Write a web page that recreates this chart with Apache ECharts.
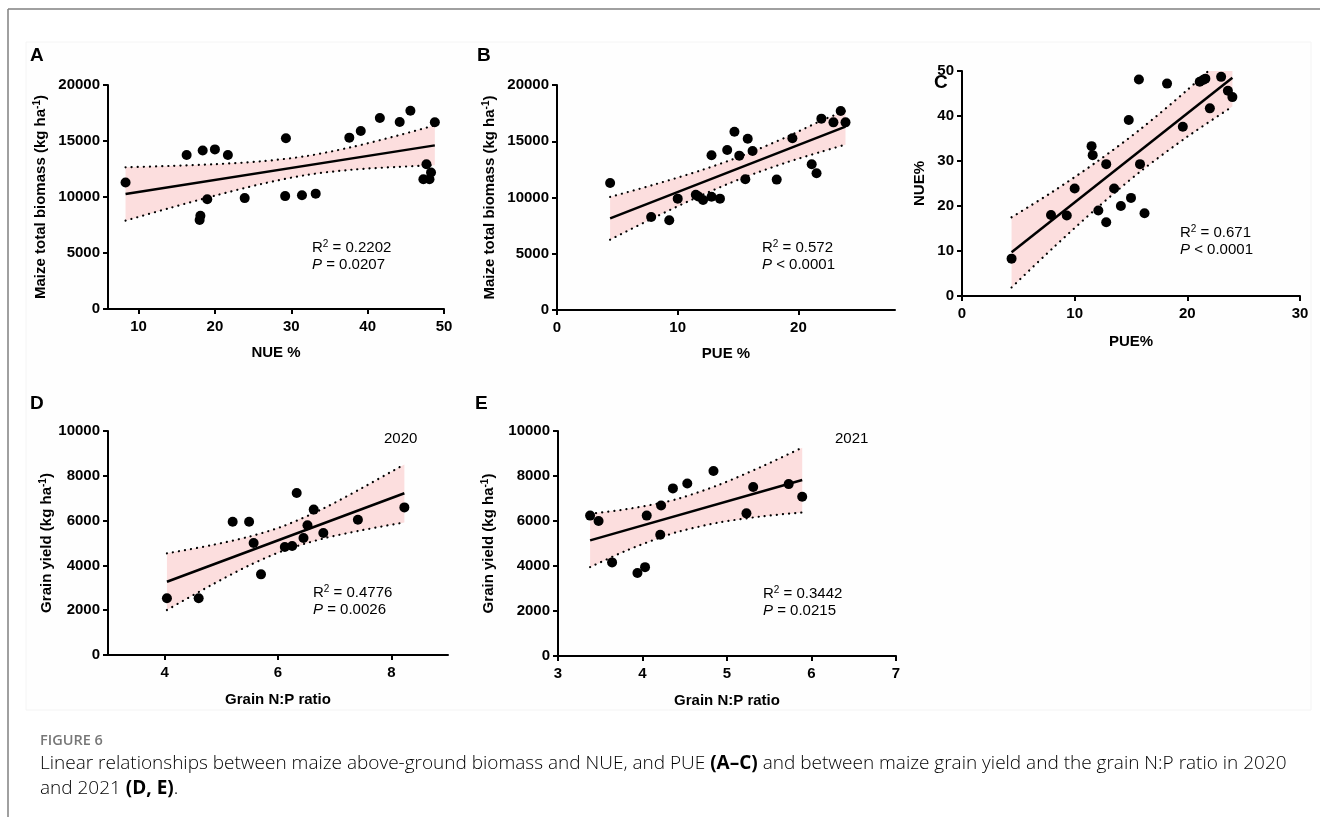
<!DOCTYPE html>
<html>
<head>
<meta charset="utf-8">
<script src="https://cdn.jsdelivr.net/npm/echarts@6/dist/echarts.min.js"></script>
<style>
html,body{margin:0;padding:0;background:#fff;}
#main{width:1320px;height:817px;}
</style>
</head>
<body>
<div id="main"></div>
<script>
/* A: biomass vs NUE */
var aX = [8.3, 16.3, 18.4, 20.0, 21.7, 18.1, 18.0, 19.0, 23.9, 29.3, 29.2, 31.4, 33.2, 37.6, 39.1, 41.6, 44.2, 45.6, 48.8, 47.7, 48.3, 47.3, 48.1];
var aY = [11300, 13750, 14150, 14250, 13750, 8330, 7950, 9800, 9900, 15250, 10080, 10150, 10300, 15300, 15900, 17050, 16700, 17700, 16680, 12920, 12180, 11580, 11580];
var aLineX = [8.3, 48.8], aLineY = [10270, 14610];
var aBandX = [8.3, 14, 20, 26, 32, 38, 44, 48.8];
var aBandUp = [12650, 12770, 12930, 13180, 13660, 14470, 15500, 16400];
var aBandLo = [7890, 9000, 10120, 11150, 11970, 12440, 12690, 12830];

/* B: biomass vs PUE */
var bX = [4.4, 7.8, 9.3, 10.0, 11.5, 11.7, 12.1, 12.8, 13.5, 12.8, 14.1, 14.7, 15.1, 15.8, 16.2, 15.6, 18.2, 19.5, 21.1, 21.5, 21.9, 22.9, 23.5, 23.9];
var bY = [11290, 8270, 7970, 9900, 10250, 10100, 9780, 10070, 9900, 13750, 14220, 15850, 13720, 15230, 14130, 11620, 11590, 15260, 12950, 12150, 17010, 16680, 17690, 16680];
var bLineX = [4.4, 23.9], bLineY = [8150, 16300];
var bBandX = [4.4, 8, 12, 15.4, 19, 22, 23.9];
var bBandUp = [10050, 11130, 12440, 13740, 15370, 16880, 17700];
var bBandLo = [6250, 8190, 10210, 11740, 13110, 14100, 14700];

/* C: NUE vs PUE */
var cX = [4.4, 7.9, 9.3, 10.0, 11.5, 11.6, 12.1, 12.8, 12.8, 13.5, 14.1, 14.8, 15.0, 15.7, 15.8, 16.2, 18.2, 19.6, 21.1, 21.4, 21.6, 22.0, 23.0, 23.6, 24.0];
var cY = [8.3, 18.0, 17.9, 23.9, 33.3, 31.3, 19.0, 16.4, 29.3, 23.9, 20.0, 39.1, 21.8, 48.1, 29.3, 18.4, 47.2, 37.6, 47.6, 48.0, 48.3, 41.7, 48.7, 45.6, 44.2];
var cLineX = [4.4, 24.0], cLineY = [9.7, 48.5];
var cBandX = [4.4, 8, 12, 15.9, 20, 24.0];
var cBandUp = [17.5, 23.1, 29.9, 37.2, 45.8, 54.9];
var cBandLo = [1.9, 10.5, 19.6, 27.8, 35.4, 42.1];

/* D: grain yield vs N:P 2020 */
var dX = [4.04, 4.6, 5.2, 5.49, 5.57, 5.7, 6.12, 6.25, 6.33, 6.45, 6.52, 6.63, 6.8, 7.41, 8.23];
var dY = [2530, 2530, 5950, 5950, 5000, 3600, 4820, 4870, 7230, 5220, 5790, 6490, 5450, 6040, 6590];
var dLineX = [4.04, 8.23], dLineY = [3270, 7220];
var dBandX = [4.04, 4.8, 5.5, 6.1, 6.8, 7.5, 8.23];
var dBandUp = [4540, 4890, 5290, 5760, 6540, 7480, 8510];
var dBandLo = [2010, 3090, 4010, 4660, 5200, 5580, 5920];

/* E: grain yield vs N:P 2021 */
var eX = [3.38, 3.48, 3.64, 3.94, 4.03, 4.05, 4.21, 4.22, 4.36, 4.53, 4.84, 5.23, 5.31, 5.73, 5.89];
var eY = [6240, 6000, 4160, 3690, 3950, 6240, 5390, 6690, 7450, 7670, 8220, 6340, 7510, 7640, 7080];
var eLineX = [3.38, 5.89], eLineY = [5140, 7820];
var eBandX = [3.38, 3.8, 4.2, 4.45, 4.9, 5.4, 5.89];
var eBandUp = [6320, 6520, 6790, 7020, 7600, 8400, 9260];
var eBandLo = [3950, 4670, 5250, 5550, 5930, 6200, 6380];

var FONT = 'Arial, "Liberation Sans", sans-serif';
var CAPFONT = '"Open Sans", sans-serif';
var PINK = '#fcdede';

var chart = echarts.init(document.getElementById('main'), null, {renderer: 'canvas'});

function pairs(xs, ys){
    return xs.map(function(x, i){ return [x, ys[i]]; });
}
function plain(v){ return String(v); }

/* 坐标轴公共样式 */
function xAxisOf(idx, min, max, ticks, name, gap){
    return {
        type: 'value', gridIndex: idx, min: min, max: max,
        name: name, nameLocation: 'middle', nameGap: gap,
        nameTextStyle: {fontFamily: FONT, fontWeight: 'bold', fontSize: 15, color: '#000'},
        axisLine: {show: true, onZero: false, lineStyle: {color: '#000', width: 2}},
        axisTick: {show: true, length: 5, lineStyle: {color: '#000', width: 2}, customValues: ticks},
        axisLabel: {fontFamily: FONT, fontWeight: 'bold', fontSize: 15, color: '#000', margin: 10, customValues: ticks, formatter: plain},
        splitLine: {show: false}
    };
}
function yAxisOf(idx, max, interval, name, gap){
    return {
        type: 'value', gridIndex: idx, min: 0, max: max, interval: interval,
        name: name, nameLocation: 'middle', nameGap: gap,
        nameTextStyle: {
            fontFamily: FONT, fontWeight: 'bold', fontSize: 15, color: '#000',
            rich: {
                b: {fontFamily: FONT, fontWeight: 'bold', fontSize: 15, color: '#000', lineHeight: 18},
                s: {fontFamily: FONT, fontWeight: 'bold', fontSize: 10, color: '#000', lineHeight: 10, verticalAlign: 'top'}
            }
        },
        axisLine: {show: true, onZero: false, lineStyle: {color: '#000', width: 2}},
        axisTick: {show: true, length: 5, lineStyle: {color: '#000', width: 2}},
        axisLabel: {fontFamily: FONT, fontWeight: 'bold', fontSize: 15, color: '#000', margin: 8, formatter: plain},
        splitLine: {show: false}
    };
}

/* 每个面板：置信带 + 回归线 + 散点 */
function panelSeries(idx, xs, ys, lx, ly, bx, bu, bl){
    var dotted = {color: '#000', width: 2.2, type: [0.1, 6], cap: 'round'};
    return [
        {
            type: 'custom', xAxisIndex: idx, yAxisIndex: idx, data: [[bx[0], bu[0]]],
            clip: true, silent: true, z: 1,
            renderItem: function(params, api){
                var pts = [];
                for (var i = 0; i < bx.length; i++) pts.push(api.coord([bx[i], bu[i]]));
                for (var j = bx.length - 1; j >= 0; j--) pts.push(api.coord([bx[j], bl[j]]));
                var cs = params.coordSys;
                return {
                    type: 'polygon', shape: {points: pts},
                    style: {fill: PINK},
                    clipPath: {type: 'rect', shape: {x: cs.x, y: cs.y, width: cs.width, height: cs.height}}
                };
            }
        },
        {
            type: 'line', xAxisIndex: idx, yAxisIndex: idx, data: pairs(bx, bl),
            smooth: 0.3, showSymbol: false, silent: true, z: 3, lineStyle: dotted
        },
        {
            type: 'line', xAxisIndex: idx, yAxisIndex: idx, data: pairs(bx, bu),
            smooth: 0.3, showSymbol: false, silent: true, z: 3, lineStyle: dotted
        },
        {
            type: 'line', xAxisIndex: idx, yAxisIndex: idx, data: pairs(lx, ly),
            showSymbol: false, silent: true, z: 4,
            lineStyle: {color: '#000', width: 2.5}
        },
        {
            type: 'scatter', xAxisIndex: idx, yAxisIndex: idx, data: pairs(xs, ys),
            symbolSize: 10, itemStyle: {color: '#000', opacity: 1}, z: 5
        }
    ];
}

function txt(x, y, rich, text, size){
    return {
        type: 'text', x: x, y: y,
        style: {
            text: text, fontFamily: FONT, fontSize: size || 15, fill: '#000',
            verticalAlign: 'middle', rich: rich
        }
    };
}
var annRich = {
    t: {fontFamily: FONT, fontSize: 15, color: '#000', lineHeight: 17},
    s: {fontFamily: FONT, fontSize: 10, color: '#000', lineHeight: 9, verticalAlign: 'top'},
    i: {fontFamily: FONT, fontSize: 15, color: '#000', fontStyle: 'italic', lineHeight: 17}
};
function ann(x, y, r2, p){
    return [
        txt(x, y, annRich, '{t|R}{s|2}{t| = ' + r2 + '}'),
        txt(x, y + 17, annRich, '{i|P}{t| ' + p + '}')
    ];
}
function letter(x, y, s){
    return {type: 'text', x: x, y: y, style: {text: s, fontFamily: FONT, fontWeight: 'bold', fontSize: 19, fill: '#000', verticalAlign: 'middle'}};
}

var series = [].concat(
    panelSeries(0, aX, aY, aLineX, aLineY, aBandX, aBandUp, aBandLo),
    panelSeries(1, bX, bY, bLineX, bLineY, bBandX, bBandUp, bBandLo),
    panelSeries(2, cX, cY, cLineX, cLineY, cBandX, cBandUp, cBandLo),
    panelSeries(3, dX, dY, dLineX, dLineY, dBandX, dBandUp, dBandLo),
    panelSeries(4, eX, eY, eLineX, eLineY, eBandX, eBandUp, eBandLo)
);

var capRich = {
    n: {fontFamily: CAPFONT, fontSize: 19, color: '#595959', fontWeight: 300},
    b: {fontFamily: CAPFONT, fontSize: 19, color: '#333', fontWeight: 'bold'}
};

var graphics = [
    {type: 'line', shape: {x1: 8, y1: 9, x2: 1320, y2: 9}, style: {stroke: '#808080', lineWidth: 1.5}, z: -10},
    {type: 'line', shape: {x1: 8, y1: 9, x2: 8, y2: 817}, style: {stroke: '#808080', lineWidth: 1.5}, z: -10},
    {type: 'rect', shape: {x: 26, y: 42, width: 1285, height: 668}, style: {fill: '#fefefe', stroke: '#f4f4f4', lineWidth: 1}, z: -10},
    letter(30, 56, 'A'), letter(477, 56, 'B'), letter(934, 83, 'C'),
    letter(30, 404, 'D'), letter(475, 404, 'E'),
    txt(384, 439, null, '2020'), txt(835, 439, null, '2021'),
    {type: 'text', x: 40, y: 741, style: {text: 'FIGURE 6', fontFamily: CAPFONT, fontSize: 14.5, fontWeight: 600, fill: '#777', verticalAlign: 'middle'}},
    {type: 'text', x: 40, y: 764, style: {
        text: '{n|Linear relationships between maize above-ground biomass and NUE, and PUE }{b|(A–C)}{n| and between maize grain yield and the grain N:P ratio in 2020}',
        rich: capRich, verticalAlign: 'middle'}},
    {type: 'text', x: 40, y: 789, style: {
        text: '{n|and 2021 }{b|(D, E)}{n|.}', rich: capRich, verticalAlign: 'middle'}}
].concat(
    ann(312, 248, '0.2202', '= 0.0207'),
    ann(762, 248, '0.572', '< 0.0001'),
    ann(1180, 233, '0.671', '< 0.0001'),
    ann(313, 593, '0.4776', '= 0.0026'),
    ann(763, 594, '0.3442', '= 0.0215')
);

var yName1 = '{b|Maize total biomass (kg ha}{s|-1}{b|)}';
var yName2 = '{b|Grain yield (kg ha}{s|-1}{b|)}';

chart.setOption({
    backgroundColor: '#fff',
    animation: false,
    grid: [
        {left: 108, top: 85, width: 336, height: 224},
        {left: 557, top: 85, width: 338, height: 225},
        {left: 962, top: 71, width: 338, height: 225},
        {left: 108, top: 431, width: 340, height: 224},
        {left: 558, top: 431, width: 338, height: 225}
    ],
    xAxis: [
        xAxisOf(0, 6, 50, [10, 20, 30, 40, 50], 'NUE %', 36),
        xAxisOf(1, 0, 28, [0, 10, 20], 'PUE %', 36),
        xAxisOf(2, 0, 30, [0, 10, 20, 30], 'PUE%', 38),
        xAxisOf(3, 3, 9, [4, 6, 8], 'Grain N:P ratio', 37),
        xAxisOf(4, 3, 7, [3, 4, 5, 6, 7], 'Grain N:P ratio', 37)
    ],
    yAxis: [
        yAxisOf(0, 20000, 5000, yName1, 58),
        yAxisOf(1, 20000, 5000, yName1, 58),
        yAxisOf(2, 50, 10, 'NUE%', 35),
        yAxisOf(3, 10000, 2000, yName2, 52),
        yAxisOf(4, 10000, 2000, yName2, 60)
    ],
    graphic: graphics,
    series: series
});
</script>
</body>
</html>
